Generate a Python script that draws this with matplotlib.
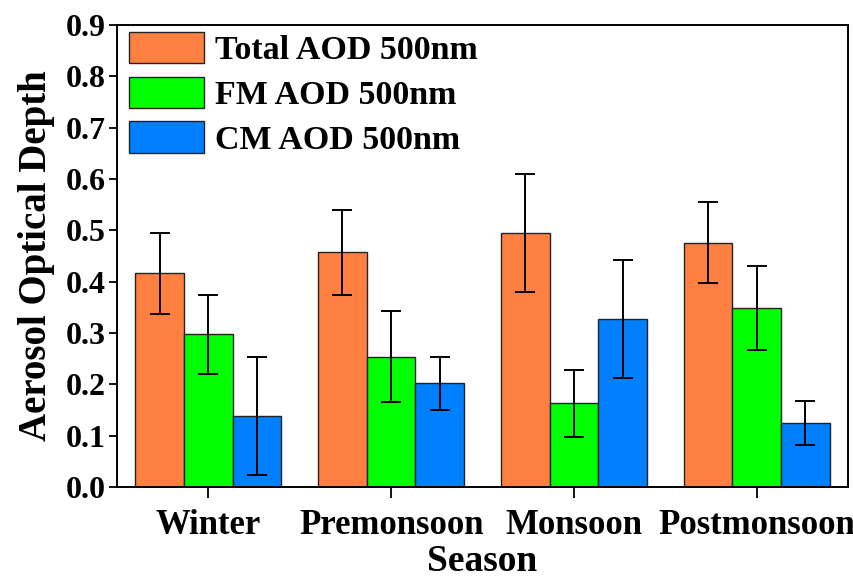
import numpy as np
from matplotlib import pyplot as plt

seasons = ["Winter", "Premonsoon", "Monsoon", "Postmonsoon"]
series_names = ["Total AOD 500nm", "FM AOD 500nm", "CM AOD 500nm"]

total_aod = [0.416, 0.457, 0.495, 0.476]
total_err = [0.079, 0.082, 0.115, 0.079]
fm_aod = [0.298, 0.254, 0.163, 0.348]
fm_err = [0.077, 0.088, 0.065, 0.082]
cm_aod = [0.138, 0.202, 0.327, 0.124]
cm_err = [0.115, 0.052, 0.115, 0.043]

colors = ["#FF8040", "#00FF00", "#0080FF"]

plt.rcParams["font.family"] = ["Liberation Serif", "DejaVu Serif"]
plt.rcParams["font.weight"] = "bold"

fig = plt.figure(figsize=(8.54, 5.8), dpi=100)
ax = fig.add_axes([117 / 854, 93 / 580, 731 / 854, 462 / 580])

x = np.arange(len(seasons))
width = 0.8 / 3
values = [total_aod, fm_aod, cm_aod]
errors = [total_err, fm_err, cm_err]

for k in range(3):
    ax.bar(x + (k - 1) * width, values[k], width, yerr=errors[k],
           color=colors[k], edgecolor="#222222", linewidth=1.0,
           label=series_names[k],
           error_kw=dict(ecolor="black", elinewidth=1.4, capsize=7, capthick=1.4))

ax.set_xlim(-0.5, 3.5)
ax.set_ylim(0, 0.9)
ax.set_yticks(np.arange(0, 0.91, 0.1))
ax.set_yticklabels([f"{v:.1f}" for v in np.arange(0, 0.91, 0.1)])
ax.set_xticks(x)
ax.set_xticklabels(seasons)

ax.tick_params(axis="y", labelsize=23, length=6, width=1.3, direction="out", pad=2)
ax.tick_params(axis="x", labelsize=25, length=8, width=1.3, direction="out", pad=8)
for lab in ax.get_xticklabels() + ax.get_yticklabels():
    lab.set_fontweight("bold")

for sp in ax.spines.values():
    sp.set_linewidth(1.4)

ax.set_ylabel("Aerosol Optical Depth", fontsize=28, fontweight="bold", labelpad=8)
ax.set_xlabel("Season", fontsize=27, fontweight="bold", labelpad=1)

ax.legend(loc="upper left", bbox_to_anchor=(0.016, 0.985), frameon=False,
          handlelength=2.2, handleheight=1.05,
          handletextpad=0.35, labelspacing=0.3, borderpad=0, borderaxespad=0,
          prop={"size": 24.5, "weight": "bold"})

fig.savefig("out.png", dpi=100)
